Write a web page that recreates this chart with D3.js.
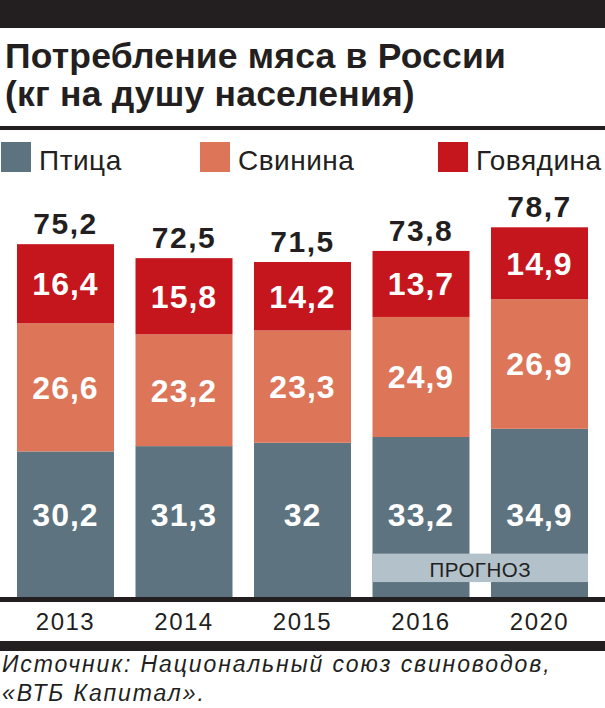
<!DOCTYPE html>
<html>
<head>
<meta charset="utf-8">
<script src="https://cdn.jsdelivr.net/npm/d3@7"></script>
<style>
  html, body { margin: 0; padding: 0; background: #fff; }
  svg { display: block; }
</style>
</head>
<body>
<script>
// ---- data ----
const years = ["2013", "2014", "2015", "2016", "2020"];
const poultry = [30.2, 31.3, 32, 33.2, 34.9];
const pork = [26.6, 23.2, 23.3, 24.9, 26.9];
const beef = [16.4, 15.8, 14.2, 13.7, 14.9];
const totals = [75.2, 72.5, 71.5, 73.8, 78.7];
const seriesKeys = ["poultry", "pork", "beef"];
const seriesNames = ["Птица", "Свинина", "Говядина"];
const forecastYears = ["2016", "2020"];
const titleLines = ["Потребление мяса в России", "(кг на душу населения)"];
const sourceLines = ["Источник: Национальный союз свиноводов,", "«ВТБ Капитал»."];

const W = 605, H = 708;
const ink = "#231f20";
const colors = { poultry: "#5d7380", pork: "#dd7558", beef: "#c5161d" };

const table = years.map((y, i) => ({ year: y, poultry: poultry[i], pork: pork[i], beef: beef[i], total: totals[i] }));

const ru = d3.formatLocale({ decimal: ",", thousands: " ", grouping: [3], currency: ["", ""] });
const fmt = v => ru.format(",")(v);

const svg = d3.select("body").append("svg").attr("width", W).attr("height", H);

// rules
svg.append("rect").attr("x", 0).attr("y", 0).attr("width", W).attr("height", 28).attr("fill", ink);
svg.append("rect").attr("x", 0).attr("y", 126).attr("width", W).attr("height", 4).attr("fill", ink);
svg.append("rect").attr("x", 0).attr("y", 641).attr("width", W).attr("height", 10).attr("fill", ink);

// title
svg.append("g").selectAll("text").data(titleLines).join("text")
  .attr("x", 5).attr("y", (d, i) => 68 + i * 38)
  .attr("font-family", "'Liberation Sans', Arial, sans-serif")
  .attr("font-weight", "bold").attr("font-size", 35.5).attr("letter-spacing", 0.2)
  .attr("fill", ink).text(d => d);

// legend
const legendX = [1, 200, 438];
const lg = svg.append("g").selectAll("g").data(seriesKeys).join("g")
  .attr("transform", (d, i) => `translate(${legendX[i]},142)`);
lg.append("rect").attr("width", 30).attr("height", 30).attr("fill", d => colors[d]);
lg.append("text").attr("x", 38).attr("y", 28)
  .attr("font-family", "'Liberation Sans', Arial, sans-serif")
  .attr("font-size", 28).attr("fill", ink).attr("letter-spacing", 0.5)
  .text((d, i) => seriesNames[i]);

// scales
const x = d3.scaleBand().domain(years).range([6.25, 598.75]).paddingInner(0.1814).paddingOuter(0.0907);
const y = d3.scaleLinear().domain([0, 80]).range([597, 597 - 4.82 * 80]);

const stack = d3.stack().keys(seriesKeys)(table);

// bars
const layers = svg.append("g").selectAll("g").data(stack).join("g").attr("fill", d => colors[d.key]);
layers.selectAll("rect").data(d => d).join("rect")
  .attr("x", d => x(d.data.year))
  .attr("width", x.bandwidth())
  .attr("y", d => y(d[1]))
  .attr("height", d => y(d[0]) - y(d[1]));

// forecast band
const fx0 = x(forecastYears[0]), fx1 = x(forecastYears[1]) + x.bandwidth();
svg.append("rect").attr("x", fx0).attr("y", y(9)).attr("width", fx1 - fx0).attr("height", y(3.1) - y(9))
  .attr("fill", "#b2c1ca");
svg.append("text").attr("x", (fx0 + fx1) / 2).attr("y", 577).attr("text-anchor", "middle")
  .attr("font-family", "'Liberation Sans', Arial, sans-serif").attr("font-size", 20.5)
  .attr("letter-spacing", 0.5).attr("fill", ink).text("ПРОГНОЗ");

// inner labels
const lblFont = 32;
layers.selectAll("text").data(d => d.map(p => Object.assign({ key: d.key }, p))).join("text")
  .attr("x", d => x(d.data.year) + x.bandwidth() / 2)
  .attr("y", d => d.key === "poultry" ? y(0) - 71 : (y(d[0]) + y(d[1])) / 2 + lblFont * 0.358)
  .attr("text-anchor", "middle")
  .attr("font-family", "'Liberation Sans', Arial, sans-serif")
  .attr("font-weight", "bold").attr("font-size", lblFont).attr("letter-spacing", 1)
  .attr("fill", "#fff")
  .text(d => fmt(d[1] - d[0]));

// totals
svg.append("g").selectAll("text").data(table).join("text")
  .attr("x", d => x(d.year) + x.bandwidth() / 2)
  .attr("y", d => y(d.poultry + d.pork + d.beef) - 10)
  .attr("text-anchor", "middle")
  .attr("font-family", "'Liberation Sans', Arial, sans-serif")
  .attr("font-weight", "bold").attr("font-size", 30).attr("letter-spacing", 1.5)
  .attr("fill", ink)
  .text(d => fmt(d.total));

// axis
svg.append("rect").attr("x", 0).attr("y", y(0)).attr("width", W).attr("height", 5).attr("fill", ink);
const axis = svg.append("g").attr("transform", `translate(0,${y(0) + 5})`)
  .call(d3.axisBottom(x).tickSize(0).tickPadding(11));
axis.select(".domain").remove();
axis.selectAll("text")
  .attr("font-family", "'Liberation Sans', Arial, sans-serif")
  .attr("font-size", 24).attr("letter-spacing", 1.5).attr("fill", ink);

// source
svg.append("g").selectAll("text").data(sourceLines).join("text")
  .attr("x", 2).attr("y", (d, i) => 672 + i * 29)
  .attr("font-family", "'Liberation Sans', Arial, sans-serif")
  .attr("font-style", "italic").attr("font-size", 23).attr("letter-spacing", 1.9)
  .attr("fill", ink).text(d => d);
</script>
</body>
</html>
